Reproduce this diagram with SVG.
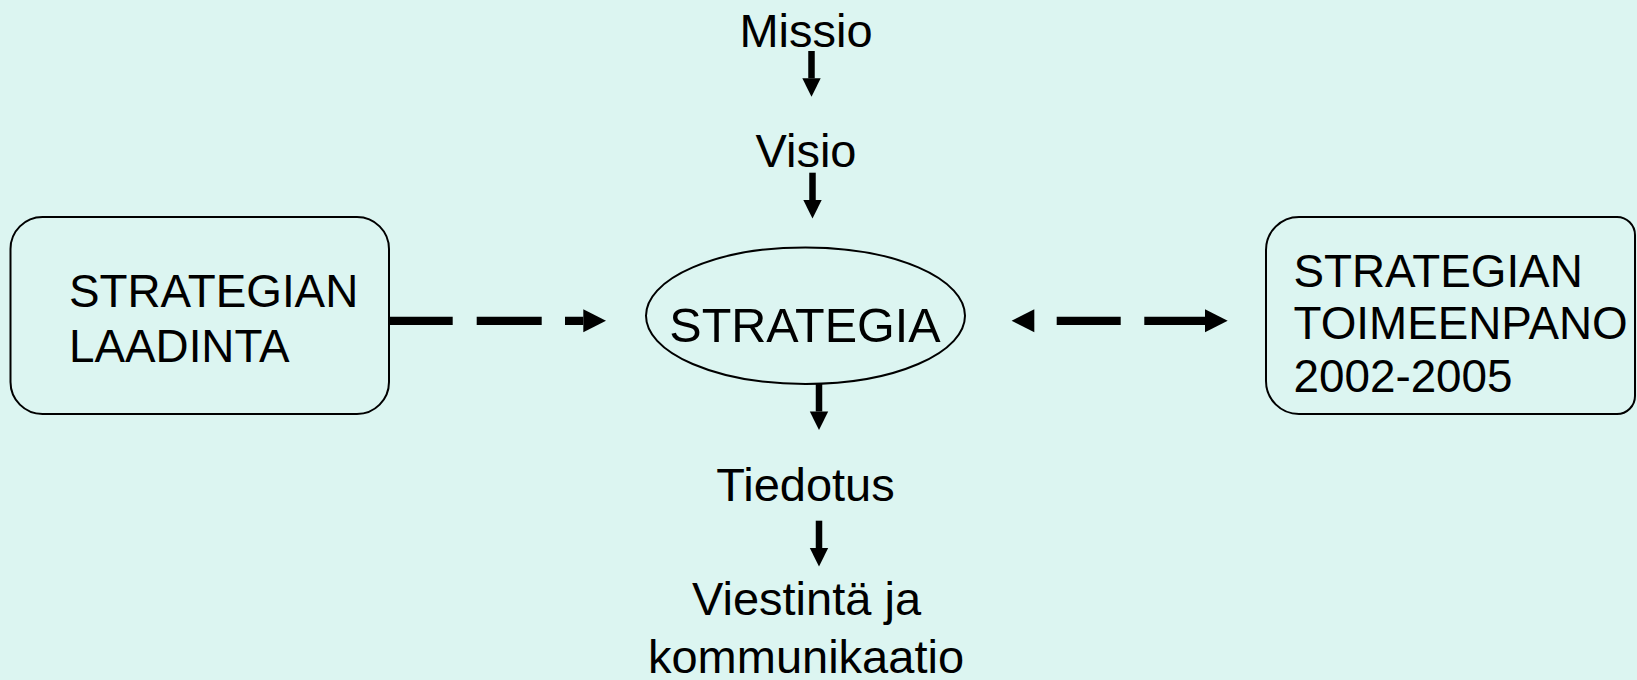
<svg xmlns="http://www.w3.org/2000/svg" width="1637" height="680" viewBox="0 0 1637 680">
  <style>
    .t { font-family: "Liberation Sans", Arial, sans-serif; fill: #000; }
    .lbl { font-size: 47px; text-anchor: middle; }
    .big { font-size: 48.5px; }
    .box { font-size: 45.8px; }
    .shape { fill: none; stroke: #000; stroke-width: 2; }
    .v { stroke: #000; stroke-width: 6.5; fill: none; }
    .h { stroke: #000; stroke-width: 8.3; fill: none; }
  </style>
  <defs>
    <marker id="headV" markerUnits="userSpaceOnUse" markerWidth="19" markerHeight="19" refX="0" refY="9.2" orient="auto" overflow="visible">
      <path d="M0,0 L18.4,9.2 L0,18.4 z" fill="#000"/>
    </marker>
    <marker id="headH" markerUnits="userSpaceOnUse" markerWidth="24" markerHeight="24" refX="0" refY="11.5" orient="auto-start-reverse" overflow="visible">
      <path d="M0,0 L22.7,11.5 L0,23 z" fill="#000"/>
    </marker>
  </defs>
  <rect x="0" y="0" width="1637" height="680" fill="#DCF5F1"/>

  <g id="node-missio">
    <text class="t lbl" x="806" y="46.7">Missio</text>
  </g>
  <g id="node-visio">
    <text class="t lbl" x="806" y="166.7">Visio</text>
  </g>
  <g id="node-strategia">
    <ellipse class="shape" cx="805.5" cy="315.7" rx="159.5" ry="68.3"/>
    <text class="t lbl big" x="805" y="341.5">STRATEGIA</text>
  </g>
  <g id="node-laadinta">
    <rect class="shape" x="10.5" y="217" width="378.5" height="197" rx="32" ry="32"/>
    <text class="t box" x="69" y="307.3">STRATEGIAN</text>
    <text class="t box" x="69" y="361.7">LAADINTA</text>
  </g>
  <g id="node-toimeenpano">
    <path class="shape" d="M1299,217 H1617 A18,18 0 0 1 1635,235 V396 A18,18 0 0 1 1617,414 H1299 A33,33 0 0 1 1266,381 V250 A33,33 0 0 1 1299,217 Z"/>
    <text class="t box" x="1293.5" y="287.3">STRATEGIAN</text>
    <text class="t box" x="1293.5" y="339.3">TOIMEENPANO</text>
    <text class="t box" x="1293.5" y="391.7">2002-2005</text>
  </g>
  <g id="node-tiedotus">
    <text class="t lbl" x="805.5" y="501">Tiedotus</text>
  </g>
  <g id="node-viestinta">
    <text class="t lbl" x="806.5" y="615">Viestintä ja</text>
    <text class="t lbl" x="806" y="673">kommunikaatio</text>
  </g>

  <g id="connectors">
    <line class="v" x1="811.5" y1="51" x2="811.5" y2="78.3" marker-end="url(#headV)"/>
    <line class="v" x1="812.5" y1="172.7" x2="812.5" y2="200" marker-end="url(#headV)"/>
    <line class="v" x1="819" y1="384" x2="819" y2="411.5" marker-end="url(#headV)"/>
    <line class="v" x1="819" y1="520.7" x2="819" y2="548" marker-end="url(#headV)"/>
    <line class="h" x1="389" y1="320.8" x2="583.3" y2="320.8" stroke-dasharray="63.7 24 65 23.3 18.3" marker-end="url(#headH)"/>
    <line class="h" x1="1034.3" y1="320.8" x2="1205" y2="320.8" stroke-dasharray="0 22.4 64 23.6 60.7" marker-start="url(#headH)" marker-end="url(#headH)"/>
  </g>
</svg>
